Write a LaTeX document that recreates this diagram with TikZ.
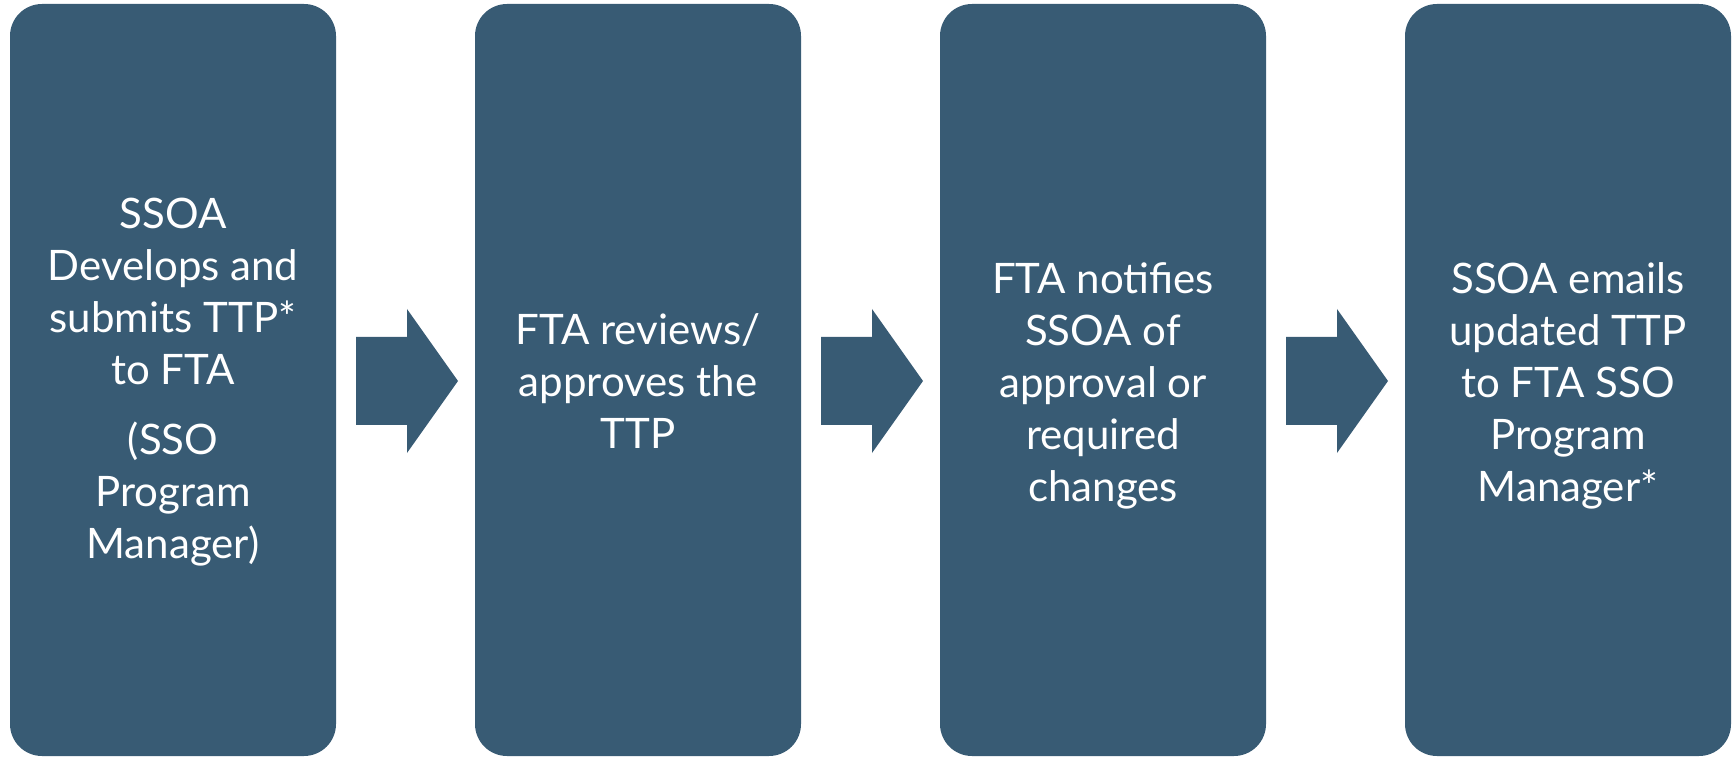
\documentclass[tikz,border=0pt]{standalone}
\usepackage{fontspec}
\setmainfont{Lato}
\definecolor{boxblue}{RGB}{56,91,116}
\begin{document}
\begin{tikzpicture}[x=1pt,y=1pt,
  stagebox/.style={fill=boxblue,draw=none,rounded corners=32pt},
  stagetext/.style={text=white,align=center,font=\fontsize{42}{52}\selectfont,inner sep=0pt},
  flowarrow/.style={fill=boxblue,draw=none}]
\useasboundingbox (0,0) rectangle (1735,756);
% boxes
\foreach \i/\x in {1/10,2/475,3/940,4/1405}{
  \path[stagebox] (\x,0) rectangle ++(326,752);
  \coordinate (b\i) at (\x+163,376);
}
\node[stagetext] (t1) at ([yshift=-2pt]b1) {SSOA\\Develops and\\submits TTP*\\to FTA\\[18pt](SSO\\Program\\Manager)};
\node[stagetext] (t2) at ([yshift=-1pt]b2) {FTA reviews/\\approves the\\TTP};
\node[stagetext] (t3) at ([yshift=-6pt]b3) {FTA notifies\\SSOA of\\approval or\\required\\changes};
\node[stagetext] (t4) at ([yshift=-6pt]b4) {SSOA emails\\updated TTP\\to FTA SSO\\Program\\Manager*};
% arrows
\foreach \x in {356,821,1286}{
  \path[flowarrow] (\x,419) -- (\x+51,419) -- (\x+51,447) -- (\x+102,375)
     -- (\x+51,303) -- (\x+51,331) -- (\x,331) -- cycle;
}
\end{tikzpicture}
\end{document}
